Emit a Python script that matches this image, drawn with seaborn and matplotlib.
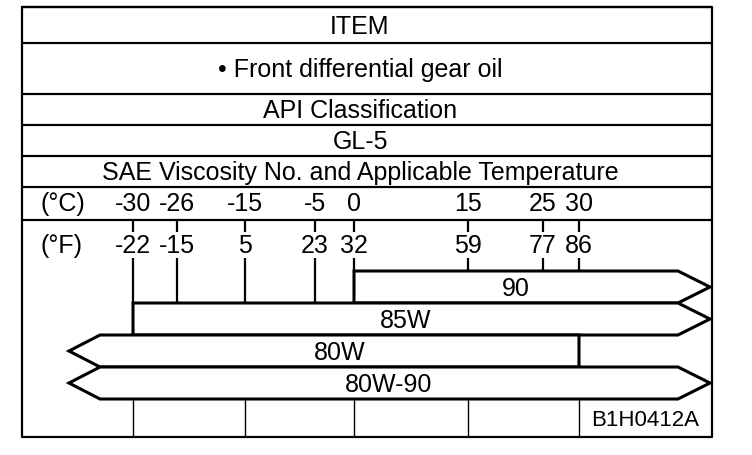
import numpy as np
import matplotlib
matplotlib.use("Agg")
import matplotlib.pyplot as plt
from matplotlib.patches import Polygon
import seaborn as sns

# header table text
header_rows = ["ITEM", "\u2022 Front differential gear oil", "API Classification", "GL-5",
               "SAE Viscosity No. and Applicable Temperature"]

# temperature scale (the drawing puts -26 a bit further right than linear)
temps_c = [-30, -26, -15, -5, 0, 15, 25, 30]
temps_f = [-22, -15, 5, 23, 32, 59, 77, 86]
grid_c = [-30, -15, 0, 15, 30]

# SAE grades; None means the range is open (arrow end)
grades = ["90", "85W", "80W", "80W-90"]
grade_lo = [0, -30, None, None]
grade_hi = [None, None, 30, None]

figure_code = "B1H0412A"

# layout, in pixels of the 752x456 picture
KNOT_C = [-60] + temps_c + [60]
KNOT_PX = [-91, 133, 177, 245, 315, 354, 468, 543, 579, 798]
BOX_L, BOX_R, BOX_T, BOX_B = 22, 712, 8, 438
ROW_LINES = [8, 44, 95, 126, 157, 188, 221]
BAR_TOP, BAR_H = 272, 32
LEFT_TIP, LEFT_CORNER = 69, 100
RIGHT_CORNER, RIGHT_TIP = 678, 710


def fwd(t):
    return np.interp(t, KNOT_C, KNOT_PX)


def inv(p):
    return np.interp(p, KNOT_PX, KNOT_C)


sns.set_theme(style="white")
plt.rcParams["font.family"] = ["Liberation Sans", "DejaVu Sans"]
plt.rcParams["text.color"] = "black"
FS = 18
LW = 1.6

fig = plt.figure(figsize=(7.52, 4.56), dpi=100)
ax = fig.add_axes([0, 0, 1, 1])
ax.set_xscale("function", functions=(fwd, inv))
ax.set_xlim(inv(0), inv(752))
ax.set_ylim(456, 0)
ax.set_axis_off()

xl, xr = inv(BOX_L), inv(BOX_R)

# outer box and row separators
ax.plot([xl, xr, xr, xl, xl], [BOX_T, BOX_T, BOX_B, BOX_B, BOX_T], color="black", lw=LW)
ax.hlines(ROW_LINES, xl, xr, color="black", lw=LW)

xc = inv(360)
for i, txt in enumerate(header_rows):
    yc = (ROW_LINES[i] + ROW_LINES[i + 1]) / 2
    ax.text(xc, yc + 1, txt, ha="center", va="center", fontsize=FS)

# temperature labels
y_c = (ROW_LINES[-2] + ROW_LINES[-1]) / 2
y_f = 246
ax.text(inv(40), y_c, "(\u00b0C)", ha="left", va="center", fontsize=FS)
ax.text(inv(40), y_f, "(\u00b0F)", ha="left", va="center", fontsize=FS)
for c, f in zip(temps_c, temps_f):
    ax.text(c, y_c, str(c), ha="center", va="center", fontsize=FS)
    ax.text(c, y_f, str(f), ha="center", va="center", fontsize=FS)

# upper ticks
ax.vlines(temps_c, ROW_LINES[-1], ROW_LINES[-1] + 12, color="black", lw=LW)


def covers(i, t):
    lo, hi = grade_lo[i], grade_hi[i]
    return (lo is None or lo <= t) and (hi is None or t <= hi)


# lower ticks run down to the first bar that covers the temperature
for c in temps_c:
    end = next(BAR_TOP + BAR_H * i for i in range(len(grades)) if covers(i, c))
    ax.vlines(c, 259, end, color="black", lw=LW)

# grade bars
for i, name in enumerate(grades):
    top = BAR_TOP + BAR_H * i
    bot = top + BAR_H
    mid = (top + bot) / 2
    lo, hi = grade_lo[i], grade_hi[i]
    if hi is None:
        right = [(inv(RIGHT_CORNER), top), (inv(RIGHT_TIP), mid), (inv(RIGHT_CORNER), bot)]
        rx = inv(RIGHT_CORNER)
    else:
        right = [(hi, top), (hi, bot)]
        rx = hi
    if lo is None:
        left = [(inv(LEFT_CORNER), bot), (inv(LEFT_TIP), mid), (inv(LEFT_CORNER), top)]
        lx = inv(LEFT_CORNER)
    else:
        left = [(lo, bot), (lo, top)]
        lx = lo
    ax.add_patch(Polygon(right + left, closed=True, facecolor="white",
                         edgecolor="black", lw=2.2, joinstyle="miter", zorder=3))
    ax.text(inv((fwd(lx) + fwd(rx)) / 2), mid + 1, name, ha="center", va="center",
            fontsize=FS, zorder=4)

# bottom grid
ax.vlines(grid_c, BAR_TOP + BAR_H * len(grades), BOX_B, color="black", lw=1.0)
ax.text(inv(645), 421, figure_code, ha="center", va="center", fontsize=16)

fig.savefig("out.png", dpi=100)
